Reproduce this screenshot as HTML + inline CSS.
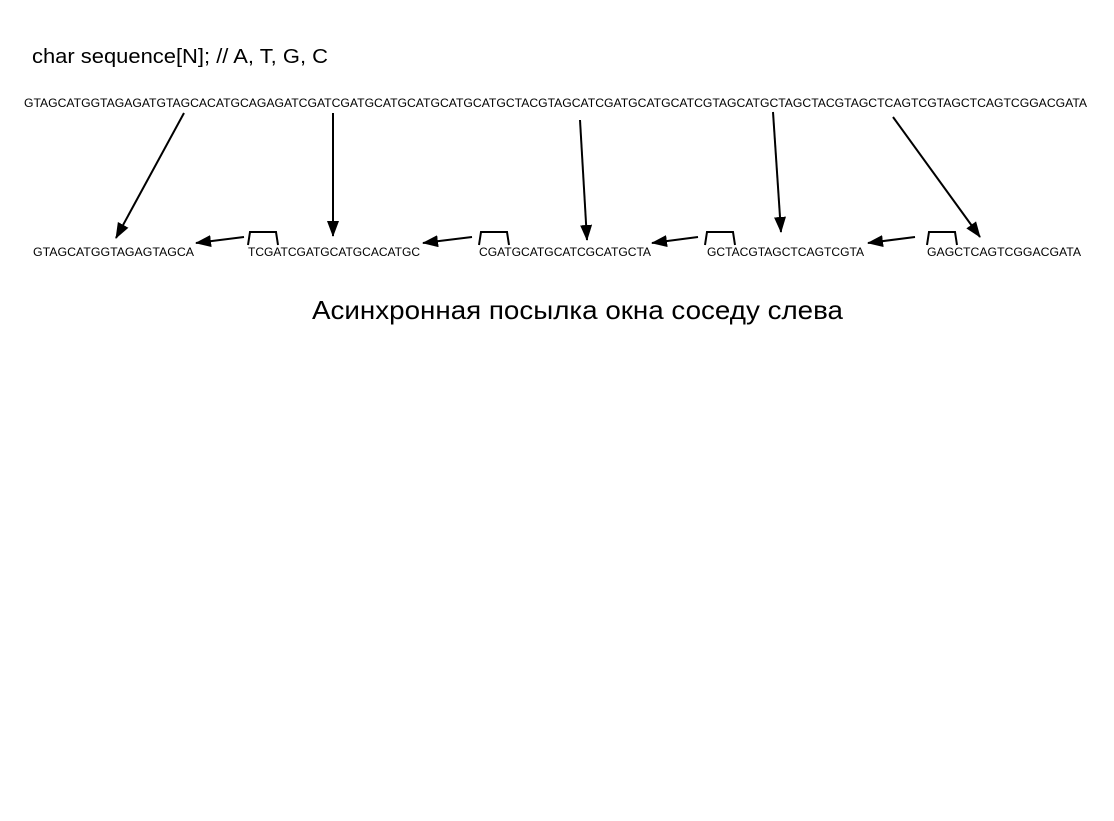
<!DOCTYPE html>
<html><head><meta charset="utf-8"><style>
html,body{margin:0;padding:0;background:#fff;}
svg{display:block;}
text{font-family:"Liberation Sans","DejaVu Sans",sans-serif;fill:#000;}
</style></head><body>
<svg width="1114" height="821" viewBox="0 0 1114 821" xmlns="http://www.w3.org/2000/svg">
<defs>
<marker id="a" markerWidth="10" markerHeight="8" refX="9" refY="4" orient="auto" markerUnits="userSpaceOnUse">
<path d="M0,0 L10,4 L0,8 z" fill="#000"/>
</marker>
<marker id="b" markerWidth="16" markerHeight="12" refX="15" refY="6" orient="auto" markerUnits="userSpaceOnUse">
<path d="M0,0 L16,6 L0,12 z" fill="#000"/>
</marker>
</defs>
<text x="32" y="63" font-size="20" textLength="296" lengthAdjust="spacingAndGlyphs">char sequence[N]; // A, T, G, C</text>
<text x="24" y="107" font-size="12" textLength="1063" lengthAdjust="spacingAndGlyphs">GTAGCATGGTAGAGATGTAGCACATGCAGAGATCGATCGATGCATGCATGCATGCATGCTACGTAGCATCGATGCATGCATCGTAGCATGCTAGCTACGTAGCTCAGTCGTAGCTCAGTCGGACGATA</text>
<g font-size="12">
<text x="33" y="256" textLength="161" lengthAdjust="spacingAndGlyphs">GTAGCATGGTAGAGTAGCA</text>
<text x="248" y="256" textLength="172" lengthAdjust="spacingAndGlyphs">TCGATCGATGCATGCACATGC</text>
<text x="479" y="256" textLength="172" lengthAdjust="spacingAndGlyphs">CGATGCATGCATCGCATGCTA</text>
<text x="707" y="256" textLength="157" lengthAdjust="spacingAndGlyphs">GCTACGTAGCTCAGTCGTA</text>
<text x="927" y="256" textLength="154" lengthAdjust="spacingAndGlyphs">GAGCTCAGTCGGACGATA</text>
</g>
<g stroke="#000" stroke-width="2" fill="none">
<path d="M248,245 L250,232 L276,232 L278,245"/>
<path d="M479,245 L481,232 L507,232 L509,245"/>
<path d="M705,245 L707,232 L733,232 L735,245"/>
<path d="M927,245 L929,232 L955,232 L957,245"/>
<line x1="184" y1="113" x2="116" y2="238" marker-end="url(#b)"/>
<line x1="333" y1="113" x2="333" y2="236" marker-end="url(#b)"/>
<line x1="580" y1="120" x2="587" y2="240" marker-end="url(#b)"/>
<line x1="773" y1="112" x2="781" y2="232" marker-end="url(#b)"/>
<line x1="893" y1="117" x2="980" y2="237" marker-end="url(#b)"/>
<line x1="244" y1="237" x2="196" y2="243" marker-end="url(#b)"/>
<line x1="472" y1="237" x2="423" y2="243" marker-end="url(#b)"/>
<line x1="698" y1="237" x2="652" y2="243" marker-end="url(#b)"/>
<line x1="915" y1="237" x2="868" y2="243" marker-end="url(#b)"/>
</g>
<text x="312" y="319" font-size="26" textLength="531" lengthAdjust="spacingAndGlyphs">Асинхронная посылка окна соседу слева</text>
</svg>
</body></html>
